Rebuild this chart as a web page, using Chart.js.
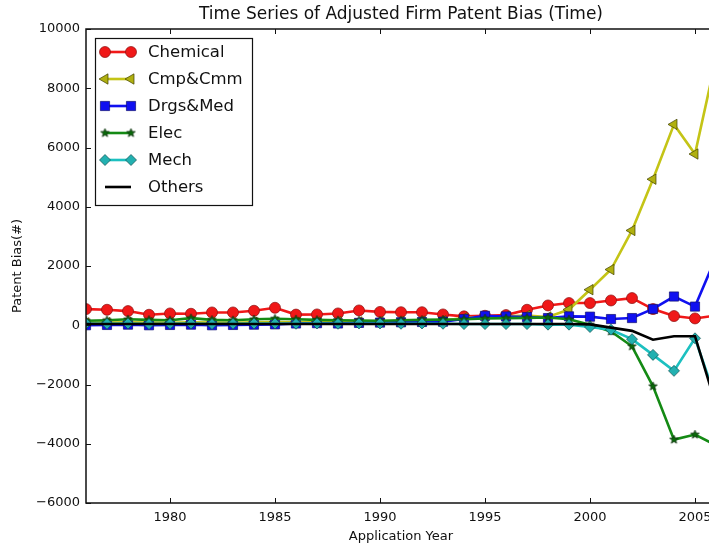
<!DOCTYPE html>
<html>
<head>
<meta charset="utf-8">
<title>Time Series of Adjusted Firm Patent Bias (Time)</title>
<script src="https://cdn.jsdelivr.net/npm/chart.js@4.4.1/dist/chart.umd.min.js"></script>
<style>
    html, body { margin: 0; padding: 0; background: #fff; overflow: hidden; }
    /* the figure is wider than the window, its right edge falls outside */
    #wrap { position: absolute; left: 0; top: 0; width: 740px; height: 550px; }
</style>
</head>
<body>
<div id="wrap"><canvas id="biasChart"></canvas></div>
<script>
// 申請年份 1976 - 2006
const years = [1976, 1977, 1978, 1979, 1980, 1981, 1982, 1983, 1984, 1985,
               1986, 1987, 1988, 1989, 1990, 1991, 1992, 1993, 1994, 1995,
               1996, 1997, 1998, 1999, 2000, 2001, 2002, 2003, 2004, 2005, 2006];

// 各產業的調整後專利偏差
const chemical = [546, 523, 478, 354, 399, 388, 432, 432, 489, 590,
                  360, 365, 399, 500, 450, 440, 440, 365, 300, 320,
                  343, 523, 668, 749, 749, 837, 917, 546, 310, 230, 330];
const cmpCmm   = [80, 90, 100, 90, 80, 100, 90, 80, 100, 110,
                  100, 110, 120, 110, 120, 130, 140, 150, 250, 280,
                  300, 330, 280, 530, 1200, 1880, 3200, 4930, 6780, 5780, 9000];
const drgsMed  = [0, 10, 20, 0, 10, 20, 0, 10, 20, 30,
                  60, 70, 60, 80, 90, 100, 110, 120, 209, 320,
                  297, 276, 243, 300, 290, 209, 243, 550, 970, 630, 2300];
const elec     = [150, 170, 200, 180, 170, 240, 180, 170, 200, 220,
                  200, 180, 170, 160, 150, 170, 180, 190, 200, 230,
                  240, 250, 260, 200, 20, -210, -710, -2060, -3860, -3690, -4050];
const mech     = [60, 50, 60, 40, 50, 60, 40, 50, 60, 60,
                  50, 60, 50, 60, 60, 50, 60, 50, 40, 40,
                  40, 40, 20, 20, -60, -150, -470, -1000, -1540, -440, -2500];
const others   = [40, 40, 40, 40, 40, 40, 40, 40, 40, 40,
                  40, 40, 40, 40, 40, 40, 40, 40, 40, 40,
                  40, 40, 40, 40, 30, -80, -190, -490, -370, -370, -2700];

const xTicks = [1980, 1985, 1990, 1995, 2000, 2005];
const yTicks = [-6000, -4000, -2000, 0, 2000, 4000, 6000, 8000, 10000];

const FONT = 'DejaVu Sans';

// 實心星形標記 (Elec 用)
function makeStar(size, fill, edge) {
    const c = document.createElement('canvas');
    c.width = c.height = size;
    const g = c.getContext('2d');
    const r = size / 2 - 1, ri = r * 0.42;
    g.beginPath();
    for (let i = 0; i < 10; i++) {
        const a = -Math.PI / 2 + i * Math.PI / 5;
        const rr = i % 2 ? ri : r;
        g.lineTo(size / 2 + rr * Math.cos(a), size / 2 + rr * Math.sin(a));
    }
    g.closePath();
    g.fillStyle = fill;
    g.fill();
    g.strokeStyle = edge;
    g.lineWidth = 0.8;
    g.stroke();
    return c;
}
const starImg = makeStar(11, '#0a6a0a', '#103010');

function pts(vals) {
    return years.map((yr, i) => ({ x: yr, y: vals[i] }));
}

function series(label, vals, color, style, opts) {
    return Object.assign({
        label: label,
        data: pts(vals),
        borderColor: color,
        backgroundColor: color,
        borderWidth: 2.6,
        pointStyle: style,
        pointRadius: 6,
        pointBackgroundColor: color,
        pointBorderColor: '#333',
        pointBorderWidth: 0.7,
        pointRotation: 0,
        tension: 0,
        fill: false
    }, opts || {});
}

const datasets = [
    series('Chemical', chemical, '#f01818', 'circle', { order: 5, pointRadius: 5.5, pointBorderColor: '#8a1010' }),
    series('Cmp&Cmm', cmpCmm, '#c4c416', 'triangle', { order: 4, pointRadius: 6, pointRotation: -90, pointBackgroundColor: '#b0b010', pointBorderColor: '#404000' }),
    series('Drgs&Med', drgsMed, '#1010f0', 'rect', { order: 3, pointRadius: 6.5, pointBorderColor: '#101070' }),
    series('Elec', elec, '#148a14', starImg, { order: 2, pointRadius: 5 }),
    series('Mech', mech, '#1cc0c0', 'rectRot', { order: 1, pointRadius: 5.5, pointBackgroundColor: '#22b0b0', pointBorderColor: '#105050' }),
    series('Others', others, '#000000', false, { order: 0, pointRadius: 0, borderWidth: 2.6 })
];

// 外框、朝內刻度、標題與圖例
const framePlugin = {
    id: 'frame',
    afterDatasetsDraw(chart) {
        const { ctx, chartArea: a, scales } = chart;
        ctx.save();
        ctx.strokeStyle = '#111';
        ctx.lineWidth = 1.5;
        ctx.strokeRect(a.left, a.top, a.right - a.left, a.bottom - a.top);
        ctx.lineWidth = 1;
        ctx.beginPath();
        xTicks.forEach(v => {
            const x = Math.round(scales.x.getPixelForValue(v)) + 0.5;
            ctx.moveTo(x, a.bottom); ctx.lineTo(x, a.bottom - 5);
            ctx.moveTo(x, a.top); ctx.lineTo(x, a.top + 5);
        });
        yTicks.forEach(v => {
            const y = Math.round(scales.y.getPixelForValue(v)) + 0.5;
            ctx.moveTo(a.left, y); ctx.lineTo(a.left + 5, y);
            ctx.moveTo(a.right, y); ctx.lineTo(a.right - 5, y);
        });
        ctx.stroke();
        ctx.restore();
    },
    afterDraw(chart) {
        const { ctx, chartArea: a } = chart;
        ctx.save();
        // 標題置中於繪圖區
        ctx.fillStyle = '#111';
        ctx.font = '17px "' + FONT + '"';
        ctx.textAlign = 'center';
        ctx.textBaseline = 'middle';
        ctx.fillText('Time Series of Adjusted Firm Patent Bias (Time)', (a.left + a.right) / 2, 15);

        // 圖例 (左上角)
        const bx = a.left + 9, by = a.top + 9, bw = 157, bh = 167;
        ctx.fillStyle = '#fff';
        ctx.fillRect(bx, by, bw, bh);
        ctx.strokeStyle = '#111';
        ctx.lineWidth = 1.2;
        ctx.strokeRect(bx + 0.5, by + 0.5, bw, bh);

        ctx.font = '16.5px "' + FONT + '"';
        ctx.textAlign = 'left';
        chart.data.datasets.forEach((ds, i) => {
            const y = by + 14 + i * 27;
            const x0 = bx + 10, x1 = bx + 36;
            ctx.strokeStyle = ds.borderColor;
            ctx.lineWidth = ds.borderWidth;
            ctx.beginPath();
            ctx.moveTo(x0, y); ctx.lineTo(x1, y);
            ctx.stroke();
            if (ds.pointStyle && ds.pointRadius > 0) {
                ctx.fillStyle = ds.pointBackgroundColor;
                ctx.strokeStyle = ds.pointBorderColor;
                ctx.lineWidth = ds.pointBorderWidth;
                const opt = { pointStyle: ds.pointStyle, radius: ds.pointRadius, rotation: ds.pointRotation, borderWidth: ds.pointBorderWidth };
                [x0, x1].forEach(px => Chart.helpers.drawPoint(ctx, opt, px, y));
            }
            ctx.fillStyle = '#111';
            ctx.fillText(ds.label, bx + 53, y + 1);
        });
        ctx.restore();
    }
};

const chart = new Chart(document.getElementById('biasChart'), {
    type: 'line',
    data: { datasets: datasets },
    plugins: [framePlugin],
    options: {
        responsive: true,
        maintainAspectRatio: false,
        animation: false,
        devicePixelRatio: 1,
        layout: { padding: { left: 0, right: 24, top: 29, bottom: 0 } },
        plugins: {
            legend: { display: false },
            title: { display: false },
            tooltip: { enabled: false }
        },
        scales: {
            x: {
                type: 'linear',
                min: 1976,
                max: 2006,
                grid: { display: false, drawTicks: false },
                border: { display: false },
                afterBuildTicks: s => { s.ticks = xTicks.map(v => ({ value: v })); },
                afterFit: s => { s.height = 47; },
                ticks: {
                    color: '#111',
                    padding: 7,
                    maxRotation: 0,
                    font: { family: FONT, size: 13 },
                    callback: v => String(v)
                },
                title: {
                    display: true,
                    text: 'Application Year',
                    color: '#111',
                    font: { family: FONT, size: 13 },
                    padding: { top: 0, bottom: 6 }
                }
            },
            y: {
                min: -6000,
                max: 10000,
                grid: { display: false, drawTicks: false },
                border: { display: false },
                afterBuildTicks: s => { s.ticks = yTicks.map(v => ({ value: v })); },
                afterFit: s => { s.width = 86; },
                ticks: {
                    color: '#111',
                    padding: 6,
                    font: { family: FONT, size: 13 },
                    callback: v => String(v).replace('-', '\u2212')
                },
                title: {
                    display: true,
                    text: 'Patent Bias(#)',
                    color: '#111',
                    font: { family: FONT, size: 13 },
                    padding: { top: 10, bottom: 10 }
                }
            }
        }
    }
});
</script>
</body>
</html>
